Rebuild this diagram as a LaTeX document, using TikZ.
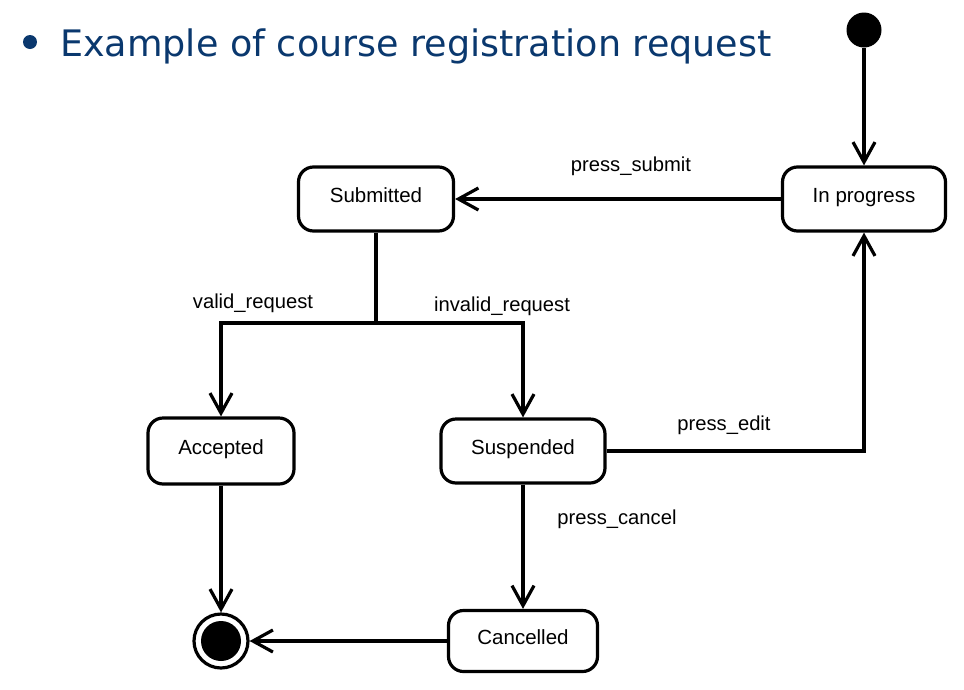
\documentclass[tikz,border=0pt]{standalone}
\usepackage{fontspec}
\setmainfont{Liberation Sans}
\newfontfamily\titlefont{DejaVu Sans}
\usepackage{tikz}
\usetikzlibrary{arrows.meta,positioning}
\definecolor{titleblue}{RGB}{10,56,110}

\begin{document}
\begin{tikzpicture}[
    x=1pt, y=-1pt,
    state/.style={rectangle, rounded corners=15pt, draw, line width=3.2pt, fill=white, minimum height=64pt, align=center, font=\fontsize{20.5}{23}\selectfont, text height=14pt, text depth=8pt, inner sep=0pt},
    trans/.style={anchor=base, inner sep=0pt, font=\fontsize{20.2}{23}\selectfont},
    arrow/.style={-{Straight Barb[length=20pt, width=22pt]}, line width=3.2pt}
]
    \useasboundingbox (0,0) rectangle (964,689);

    % Title
    \node[circle, fill=titleblue, minimum size=14pt, inner sep=0pt] (bullet) at (30,42) {};
    \node[anchor=base west, inner sep=0pt, text=titleblue, font=\titlefont\fontsize{36.5}{40}\selectfont] (title) at (60,56) {Example of course registration request};

    % States
    \node[circle, fill=black, minimum size=35pt, inner sep=0pt] (init) at (864,30) {};
    \node[state, minimum width=163pt] (inprogress) at (864,199) {In progress};
    \node[state, minimum width=155pt] (submitted) at (376,199) {Submitted};
    \node[state, minimum width=146pt, minimum height=66pt] (accepted) at (221,451) {Accepted};
    \node[state, minimum width=164pt] (suspended) at (523,451) {Suspended};
    \node[state, minimum width=149pt, minimum height=61pt] (cancelled) at (523,641) {Cancelled};
    \node[circle, draw, line width=3.2pt, minimum size=54pt, inner sep=0pt] (final) at (221,641) {};
    \node[circle, fill=black, minimum size=40pt, inner sep=0pt] (finaldot) at (final) {};

    % Transitions
    \coordinate (fork) at (376,323);
    \draw[arrow] (init) -- (inprogress);
    \draw[arrow] (inprogress) -- (submitted);
    \draw[arrow] (submitted.south) -- (fork) -| (accepted.north);
    \draw[arrow] (fork) -| (suspended.north);
    \draw[arrow] (suspended.east) -| (inprogress.south);
    \draw[arrow] (suspended) -- (cancelled);
    \draw[arrow] (cancelled) -- (final);
    \draw[arrow] (accepted) -- (final);

    % Labels
    \node[trans] (lsubmit) at (631,171) {press\_submit};
    \node[trans] (lvalid) at (253,308) {valid\_request};
    \node[trans] (linvalid) at (502,311) {invalid\_request};
    \node[trans] (ledit) at (724,430) {press\_edit};
    \node[trans] (lcancel) at (617,524) {press\_cancel};
\end{tikzpicture}
\end{document}
